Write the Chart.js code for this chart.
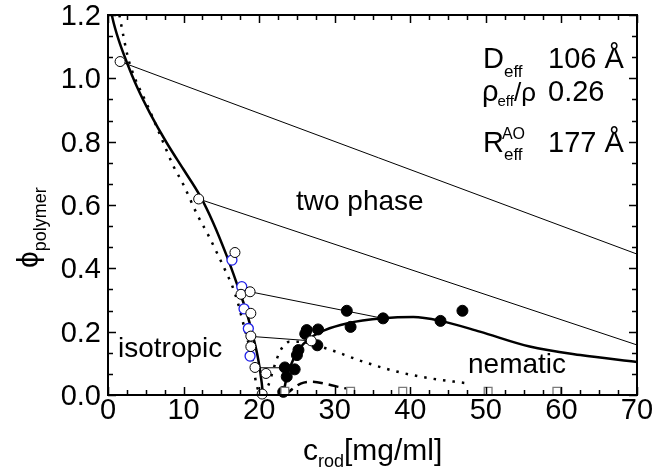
<!DOCTYPE html>
<html>
<head>
<meta charset="utf-8">
<script src="https://cdn.jsdelivr.net/npm/chart.js@4/dist/chart.umd.min.js"></script>
<style>
	html, body { margin: 0; padding: 0; background: #fff; }
	#wrap { width: 652px; height: 474px; }
</style>
</head>
<body>
<div id="wrap"><canvas id="phaseChart" width="652" height="474"></canvas></div>
<script>
// 目盛りラベル
var xTicks = [0, 10, 20, 30, 40, 50, 60, 70];
var yTicks = ['0.0', '0.2', '0.4', '0.6', '0.8', '1.0', '1.2'];

// 等方相側のバイノーダル（実線）
var isoBinodal = [[0.48,1.205],[0.6,1.19],[1.4,1.122],[2.5,1.05],[3.8,0.975],[5.6,0.888],[7.8,0.795],[10,0.712],[12.2,0.628],[13.9,0.545],[15.7,0.44],[17.0,0.355],[18.35,0.26],[19.2,0.185],[19.9,0.11],[20.35,0.037],[20.5,0.0]];
// スピノーダル（点線）
var spinodal = [[1.5,1.2],[2.6,1.07],[3.4,1.01],[5.1,0.921],[6.9,0.821],[8.6,0.726],[10.0,0.663],[11.8,0.57],[13.2,0.508],[14.5,0.445],[15.7,0.384],[16.4,0.347],[17.2,0.29],[17.9,0.226],[18.6,0.163],[19.2,0.1],[19.6,0.037],[20.3,0.005],[21.2,0.03],[22.0,0.09],[22.8,0.14],[24.0,0.168],[25.5,0.168],[27.5,0.157],[30.0,0.138],[33.8,0.105],[38.2,0.074],[42.8,0.052],[47.2,0.038]];
// ネマチック相側のバイノーダル（実線）
var nemBinodal = [[23.2,0.0],[23.65,0.058],[24.3,0.1],[25.2,0.142],[26.7,0.179],[28.7,0.205],[31.6,0.226],[36.4,0.242],[40.4,0.246],[44,0.234],[49.2,0.2],[55.8,0.153],[62.5,0.126],[70,0.104]];
// 破線
var dashedCurve = [[23.4,0.0],[24.3,0.017],[25.5,0.036],[27.0,0.042],[29.0,0.034],[31.2,0.022],[32.2,0.018]];
// タイライン
var tieLines = [
	[[1.6,1.053],[70,0.445]],
	[[12.0,0.619],[70,0.158]],
	[[18.8,0.326],[36.4,0.242]],
	[[19.5,0.184],[26.9,0.171]],
	[[20.1,0.086],[23.4,0.086]]
];
// 測定点
var openBlack = [[1.6,1.053],[12.0,0.619],[16.8,0.45],[17.6,0.318],[18.8,0.326],[18.9,0.258],[18.9,0.186],[18.9,0.153],[19.45,0.087],[20.9,0.068],[20.4,0.003],[26.9,0.171]];
var openBlue = [[16.4,0.426],[17.7,0.342],[18.0,0.272],[18.57,0.21],[18.8,0.123]];
var filled = [[31.6,0.266],[32.1,0.215],[26.3,0.205],[26.1,0.193],[27.8,0.207],[25.2,0.142],[25.0,0.126],[27.7,0.157],[23.4,0.087],[24.7,0.081],[23.65,0.058],[23.2,0.01],[36.4,0.242],[44.0,0.234],[46.9,0.266]];
var squares = [[23.4,0.012],[32.1,0.012],[39.0,0.012],[50.3,0.012],[59.4,0.012]];

(function() {
	var FONT = '"Liberation Sans", Arial, sans-serif';

	var toXY = function(arr) {
		return arr.map(function(p) { return { x: p[0], y: p[1] }; });
	};

	var lineSet = function(arr, opt) {
		var ds = {
			data: toXY(arr),
			showLine: true,
			borderColor: '#000',
			borderWidth: 2.5,
			pointRadius: 0,
			cubicInterpolationMode: 'monotone',
			fill: false,
			order: 5
		};
		for (var k in opt) ds[k] = opt[k];
		return ds;
	};

	var pointSet = function(arr, opt) {
		var ds = {
			data: toXY(arr),
			showLine: false,
			clip: false,
			pointRadius: 5,
			pointBorderWidth: 1,
			pointBorderColor: '#000',
			pointBackgroundColor: '#fff',
			order: 1
		};
		for (var k in opt) ds[k] = opt[k];
		return ds;
	};

	var datasets = [];
	tieLines.forEach(function(t) {
		datasets.push(lineSet(t, { borderWidth: 1, cubicInterpolationMode: 'default', tension: 0, order: 6 }));
	});
	datasets.push(lineSet(isoBinodal));
	datasets.push(lineSet(spinodal, { borderDash: [2.5, 7] }));
	datasets.push(lineSet(nemBinodal));
	datasets.push(lineSet(dashedCurve, { borderDash: [10, 6] }));
	datasets.push(pointSet(squares, { pointStyle: 'rect', pointRadius: 5.5, pointBorderWidth: 1.3, pointBorderColor: '#7a7a7a' }));
	datasets.push(pointSet(openBlack));
	datasets.push(pointSet(openBlue, { pointBorderColor: '#1f1fe8', pointBorderWidth: 1.3 }));
	datasets.push(pointSet(filled, { pointRadius: 5.5, pointBackgroundColor: '#000' }));

	// テキスト（下付き・上付き文字対応）
	var txt = function(ctx, s, x, y, size, align) {
		ctx.font = size + 'px ' + FONT;
		ctx.textAlign = align || 'left';
		ctx.fillText(s, x, y);
		return x + ctx.measureText(s).width;
	};

	// 枠・内向き目盛り・文字
	var framePlugin = {
		id: 'frame',
		afterDatasetsDraw: function(chart) {
			var ctx = chart.ctx;
			var a = chart.chartArea;
			var xs = chart.scales.x, ys = chart.scales.y;
			var i, v, p, len;
			ctx.save();
			ctx.strokeStyle = '#000';
			ctx.fillStyle = '#000';
			ctx.lineWidth = 1.5;
			ctx.beginPath();
			for (i = 0; i <= 28; i++) {
				v = i * 2.5;
				p = Math.round(xs.getPixelForValue(v)) + 0.5;
				len = (i % 4 === 0) ? 8 : 5;
				ctx.moveTo(p, a.bottom); ctx.lineTo(p, a.bottom - len);
				ctx.moveTo(p, a.top); ctx.lineTo(p, a.top + len);
			}
			for (i = 0; i <= 18; i++) {
				v = i * 0.2 / 3;
				p = Math.round(ys.getPixelForValue(v)) + 0.5;
				len = (i % 3 === 0) ? 8 : 5;
				ctx.moveTo(a.left, p); ctx.lineTo(a.left + len, p);
				ctx.moveTo(a.right, p); ctx.lineTo(a.right - len, p);
			}
			ctx.stroke();
			ctx.lineWidth = 2;
			ctx.strokeRect(a.left, a.top, a.right - a.left, a.bottom - a.top);

			// 目盛りラベル
			ctx.textBaseline = 'alphabetic';
			xTicks.forEach(function(t) {
				txt(ctx, String(t), xs.getPixelForValue(t), a.bottom + 24, 29, 'center');
			});
			yTicks.forEach(function(t) {
				txt(ctx, t, a.left - 7, ys.getPixelForValue(parseFloat(t)) + 10, 29, 'right');
			});

			// 領域名
			txt(ctx, 'two phase', 296, 210, 28);
			txt(ctx, 'isotropic', 118, 357, 28);
			txt(ctx, 'nematic', 468, 373, 28);

			// パラメータ
			var e = txt(ctx, 'D', 483, 68, 29);
			txt(ctx, 'eff', e, 77, 17);
			txt(ctx, '106 Å', 548, 68, 29);
			e = txt(ctx, 'ρ', 482, 101, 29);
			e = txt(ctx, 'eff', e - 1, 106, 15);
			txt(ctx, '/ρ', e, 101, 26);
			txt(ctx, '0.26', 548, 101, 29);
			e = txt(ctx, 'R', 483, 152, 29);
			txt(ctx, 'AO', e - 2, 139, 16);
			txt(ctx, 'eff', e, 160, 17);
			txt(ctx, '177 Å', 548, 152, 29);

			// x軸タイトル
			e = txt(ctx, 'c', 303, 460, 30);
			e = txt(ctx, 'rod', e, 467, 18);
			txt(ctx, '[mg/ml]', e, 460, 30);

			// y軸タイトル
			ctx.translate(38, 268);
			ctx.rotate(-Math.PI / 2);
			e = txt(ctx, 'ϕ', 0, 0, 30);
			txt(ctx, 'polymer', e, 8, 18);
			ctx.restore();
		}
	};

	var ctx = document.getElementById('phaseChart').getContext('2d');
	new Chart(ctx, {
		type: 'scatter',
		data: { datasets: datasets },
		options: {
			responsive: false,
			animation: false,
			devicePixelRatio: 1,
			layout: { padding: { left: 108, right: 15, top: 15, bottom: 79 } },
			plugins: { legend: { display: false }, tooltip: { enabled: false } },
			scales: {
				x: { type: 'linear', min: 0, max: 70, display: false },
				y: { type: 'linear', min: 0, max: 1.2, display: false }
			}
		},
		plugins: [framePlugin]
	});
})();
</script>
</body>
</html>
